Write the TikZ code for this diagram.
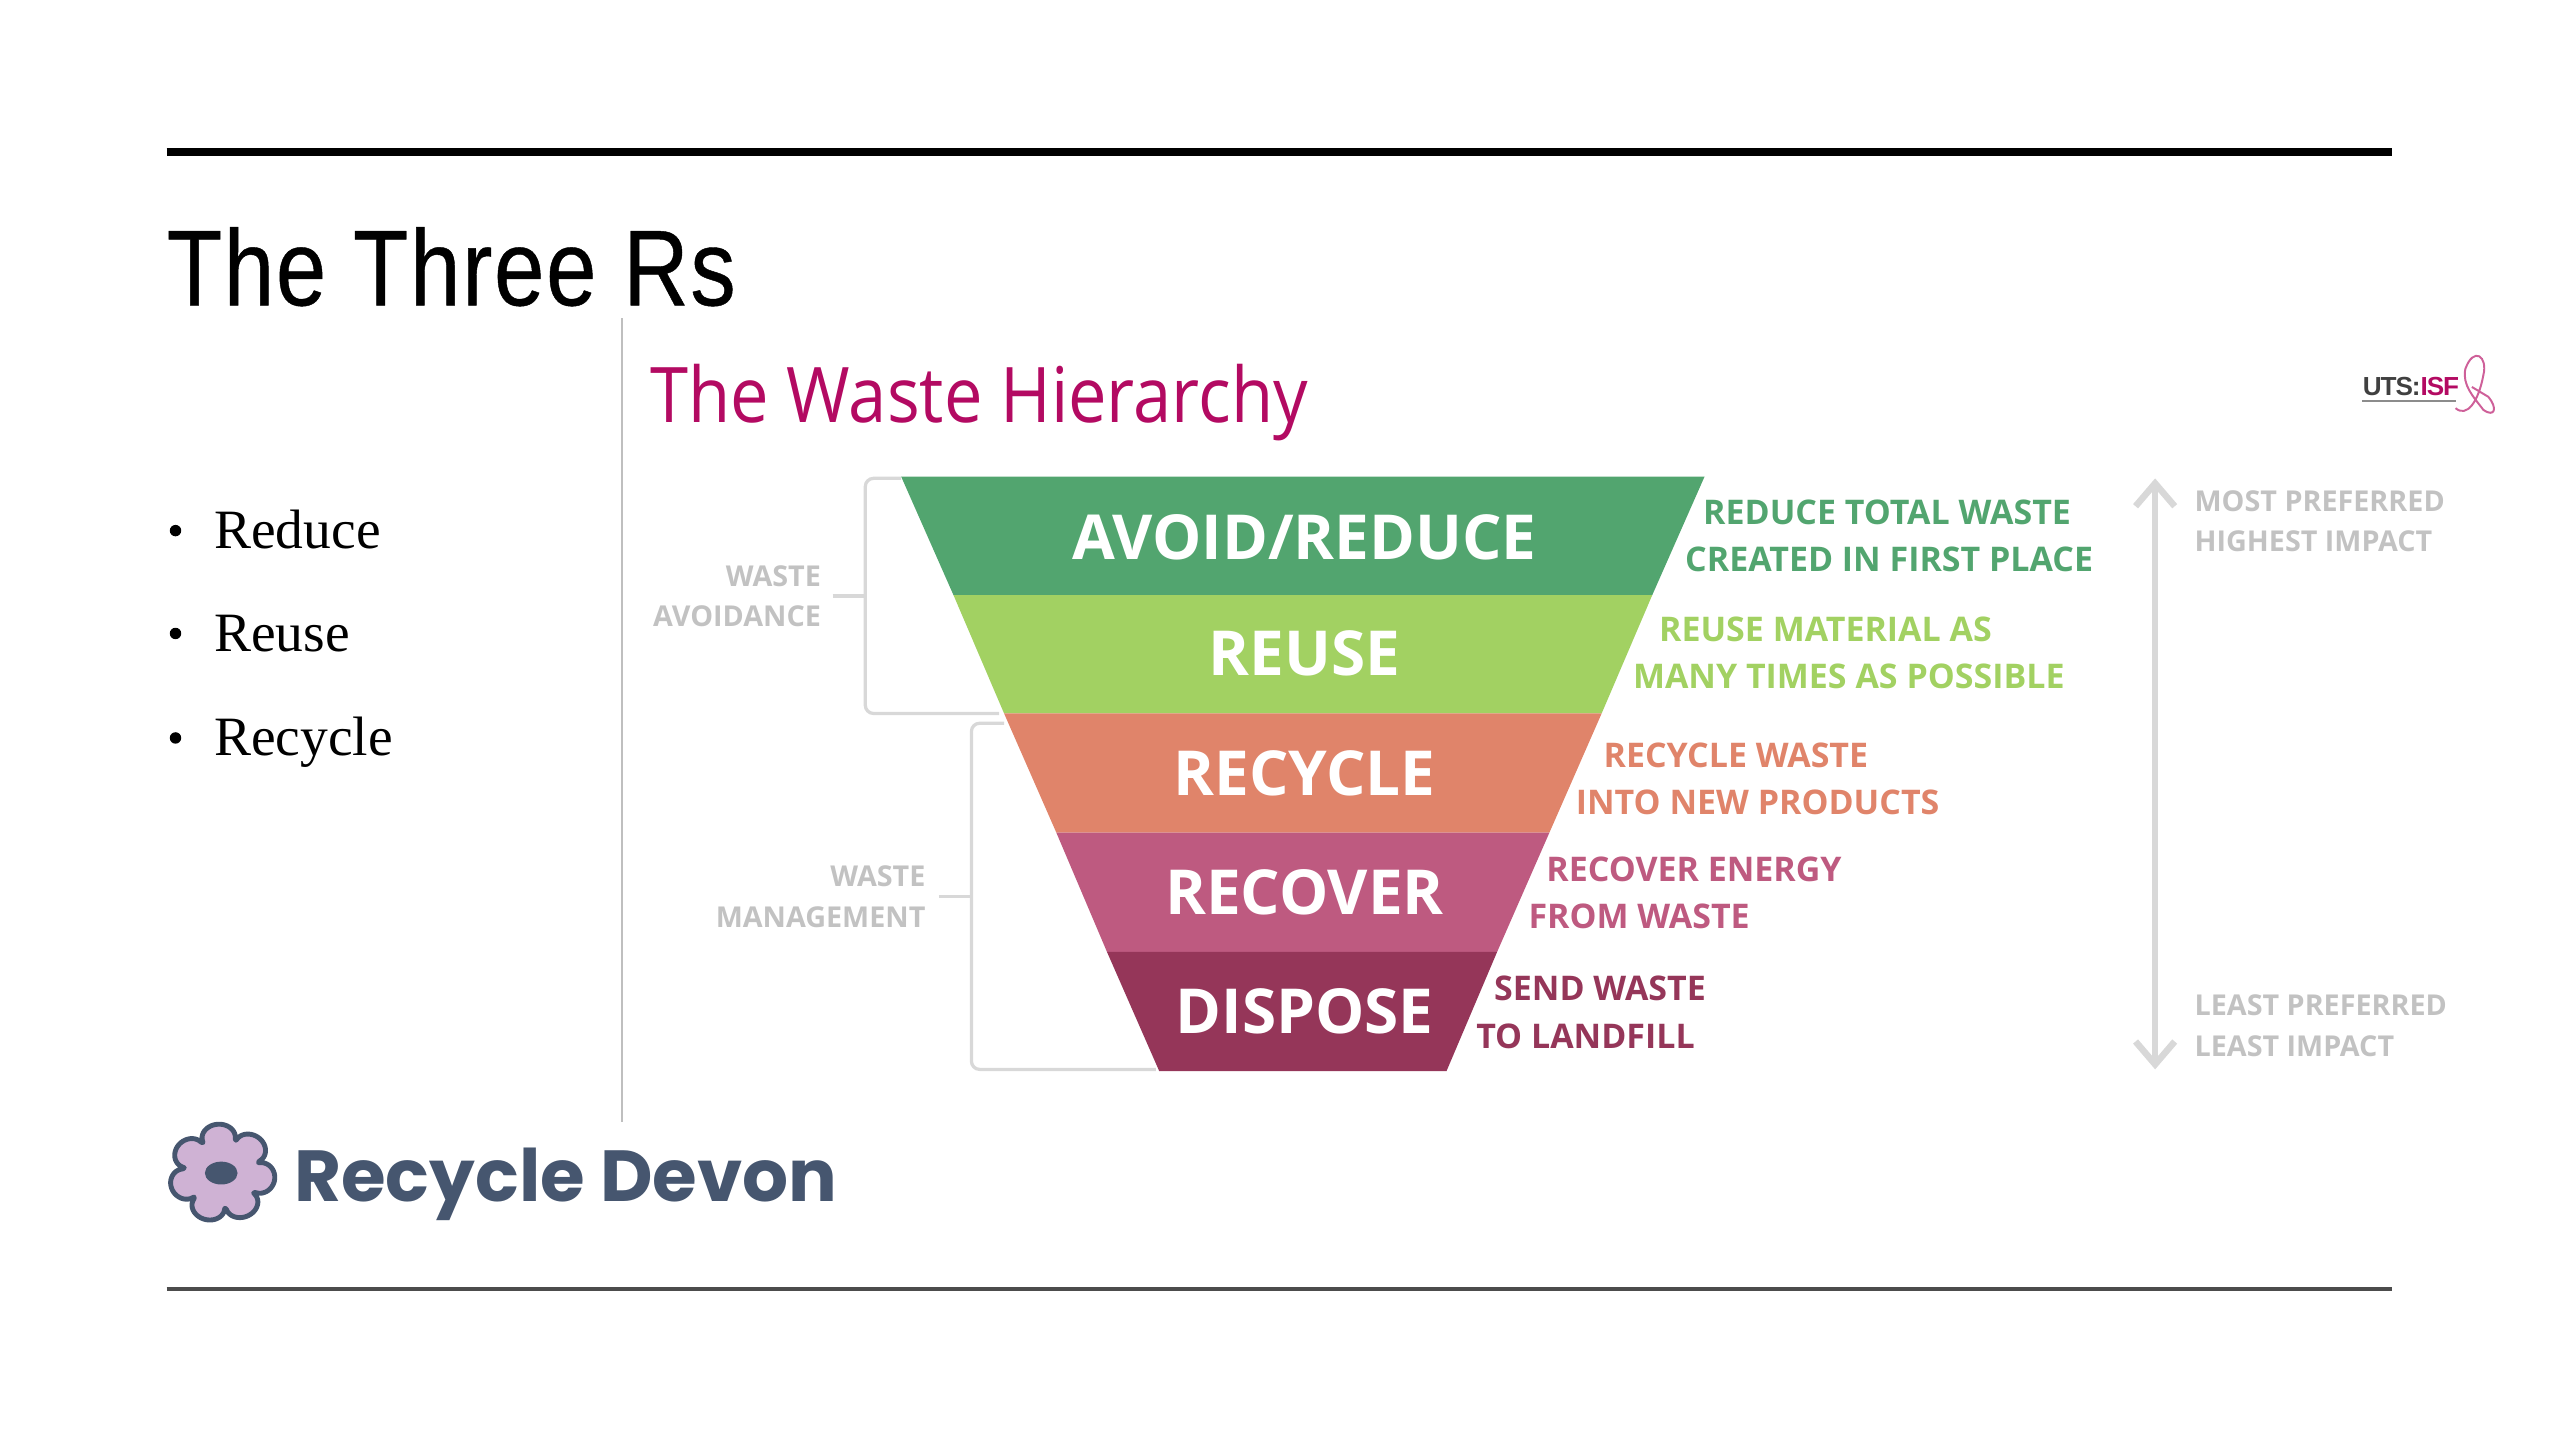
\documentclass[tikz,border=0pt]{standalone}
\usepackage{fontspec}
\usetikzlibrary{arrows.meta}
\setmainfont{Liberation Serif}
\newfontfamily\headfont[FakeStretch=0.84,LetterSpace=1.6,FakeBold=0.4]{Liberation Sans}
\newfontfamily\wastefont{Open Sans}
\newfontfamily\hierfont[FakeStretch=0.895]{Open Sans}
\newfontfamily\devonfont{Poppins}
\newfontfamily\logofont[LetterSpace=-4]{Liberation Sans}
\definecolor{hiermagenta}{HTML}{B30A62}
\definecolor{avoidcol}{HTML}{52A56F}
\definecolor{reusecol}{HTML}{A2D162}
\definecolor{recyclecol}{HTML}{E0846A}
\definecolor{recovercol}{HTML}{BE5A80}
\definecolor{disposecol}{HTML}{953659}
\definecolor{palegrey}{HTML}{D8D8D8}
\definecolor{devonblue}{HTML}{46566F}
\definecolor{petal}{HTML}{CFB2D4}
\tikzset{
  bandlabel/.style={inner sep=0pt,text=white,font=\wastefont\bfseries\fontsize{38}{38}\selectfont,anchor=base},
  sidelabel/.style={inner sep=0pt,anchor=base west,font=\wastefont\bfseries\fontsize{20.8}{20.8}\selectfont},
  greylabel/.style={inner sep=0pt,text=palegrey!90!black,font=\wastefont\bfseries\fontsize{17.6}{17.6}\selectfont},
  bracket/.style={palegrey,line width=2pt,rounded corners=5pt},
  bulletitem/.style={inner sep=0pt,anchor=base west,font=\fontsize{34}{34}\selectfont},
}
\begin{document}
\begin{tikzpicture}[x=1pt,y=-1pt]
    \useasboundingbox (0,0) rectangle (1568,882);
    % frame of the slide
    \coordinate (ruletopl) at (102,93);
    \coordinate (ruletopr) at (1465,93);
    \coordinate (rulebotl) at (102,789.5);
    \coordinate (rulebotr) at (1465,789.5);
    \coordinate (splittop) at (381,195);
    \coordinate (splitbot) at (381,687);
    \draw[line width=5pt] (ruletopl) -- (ruletopr);
    \draw[line width=2pt,black!70] (rulebotl) -- (rulebotr);
    \draw[line width=1.5pt,black!25] (splittop) -- (splitbot);
    \node[inner sep=0pt,anchor=base west,font=\headfont\fontsize{66}{66}\selectfont] (slidetitle) at (102,187) {The Three Rs};
    % bullets
    \foreach \name/\txt/\ypos in {bulreduce/Reduce/336,bulreuse/Reuse/399,bulrecycle/Recycle/463} {
        \fill (107.5,\ypos-11) circle (3.5pt);
        \node[bulletitem] (\name) at (131,\ypos) {\txt};
    }
    % the funnel
    \node[inner sep=0pt,anchor=base west,text=hiermagenta,font=\hierfont\fontsize{47}{47}\selectfont] (hiertitle) at (398,259) {The Waste Hierarchy};
    \fill[avoidcol] (552,292) -- (1044,292) -- (1012,364.5) -- (584,364.5) -- cycle;
    \fill[reusecol] (584,364.5) -- (1012,364.5) -- (981,437) -- (615,437) -- cycle;
    \fill[recyclecol] (615,437) -- (981,437) -- (949,510) -- (647,510) -- cycle;
    \fill[recovercol] (647,510) -- (949,510) -- (917,583) -- (678,583) -- cycle;
    \fill[disposecol] (678,583) -- (917,583) -- (886,656) -- (710,656) -- cycle;
    \node[bandlabel] (avoid) at (799,343) {AVOID/REDUCE};
    \node[bandlabel] (reuse) at (799,414) {REUSE};
    \node[bandlabel] (recycle) at (799,487) {RECYCLE};
    \node[bandlabel] (recover) at (799,560) {RECOVER};
    \node[bandlabel] (dispose) at (799,633) {DISPOSE};
    % text beside the funnel
    \node[sidelabel,text=avoidcol] (avoida) at (1043,321) {REDUCE TOTAL WASTE};
    \node[sidelabel,text=avoidcol] (avoidb) at (1032,350) {CREATED IN FIRST PLACE};
    \node[sidelabel,text=reusecol] (reusea) at (1016,393) {REUSE MATERIAL AS};
    \node[sidelabel,text=reusecol] (reuseb) at (1000,422) {MANY TIMES AS POSSIBLE};
    \node[sidelabel,text=recyclecol] (recyclea) at (982,470) {RECYCLE WASTE};
    \node[sidelabel,text=recyclecol] (recycleb) at (965,499) {INTO NEW PRODUCTS};
    \node[sidelabel,text=recovercol] (recovera) at (947,540) {RECOVER ENERGY};
    \node[sidelabel,text=recovercol] (recoverb) at (936,569) {FROM WASTE};
    \node[sidelabel,text=disposecol] (disposea) at (915,613) {SEND WASTE};
    \node[sidelabel,text=disposecol] (disposeb) at (904,642) {TO LANDFILL};
    % brackets on the left
    \node[greylabel,anchor=base east] (avoidgrpa) at (503,359) {WASTE};
    \node[greylabel,anchor=base east] (avoidgrpb) at (503,384) {AVOIDANCE};
    \node[greylabel,anchor=base east] (mangrpa) at (567,543) {WASTE};
    \node[greylabel,anchor=base east] (mangrpb) at (567,568) {MANAGEMENT};
    \coordinate (avoidtop) at (552,293);
    \coordinate (avoidbot) at (612,437);
    \coordinate (avoidtick) at (510,365);
    \coordinate (mantop) at (615,443);
    \coordinate (manbot) at (708,655);
    \coordinate (mantick) at (575,549);
    \draw[bracket] (avoidtop) -- (530,293) -- (530,437) -- (avoidbot);
    \draw[bracket] (avoidtick) -- (530,365);
    \draw[bracket] (mantop) -- (595,443) -- (595,655) -- (manbot);
    \draw[bracket] (mantick) -- (595,549);
    % preference scale
    \coordinate (scaletop) at (1320,293);
    \coordinate (scalebot) at (1320,655);
    \draw[{Straight Barb[length=14pt,width=24pt]}-{Straight Barb[length=14pt,width=24pt]},palegrey,line width=4pt] (scaletop) -- (scalebot);
    \node[greylabel,anchor=base west] (mosta) at (1344,313) {MOST PREFERRED};
    \node[greylabel,anchor=base west] (mostb) at (1344,338) {HIGHEST IMPACT};
    \node[greylabel,anchor=base west] (leasta) at (1344,622) {LEAST PREFERRED};
    \node[greylabel,anchor=base west] (leastb) at (1344,647) {LEAST IMPACT};
    % small logo, top right
    \node[inner sep=0pt,anchor=base west,font=\logofont\bfseries\fontsize{16}{16}\selectfont] (utslogo) at (1447,242) {\textcolor{black!75}{UTS:}\textcolor{hiermagenta}{ISF}};
    \draw[line width=1pt,black!45] (1447,245.5) -- (1504,245.5);
    \draw[hiermagenta!65,line width=1.2pt] (1504,250) .. controls (1511,256) and (1518,246) .. (1521,230) .. controls (1524,218) and (1515,212) .. (1510,226) .. controls (1508,236) and (1515,243) .. (1521,251) .. controls (1528,256) and (1530,250) .. (1524,243) -- (1514,237);
    % Recycle Devon logo
    \draw[fill=petal,draw=devonblue,line width=3pt,line join=round] plot[domain=0:360,samples=211,variable=\t]
        ({136+32.5*(0.58+0.42*abs(cos(3.5*(\t-95)))^0.35)*cos(\t)},{718.5-30*(0.58+0.42*abs(cos(3.5*(\t-95)))^0.35)*sin(\t)}) -- cycle;
    \fill[devonblue] (135.5,718.5) ellipse (10pt and 7pt);
    \node[inner sep=0pt,anchor=base west,text=devonblue,font=\devonfont\bfseries\fontsize{44.3}{44.3}\selectfont] (devonname) at (180,736) {Recycle Devon};
\end{tikzpicture}
\end{document}
